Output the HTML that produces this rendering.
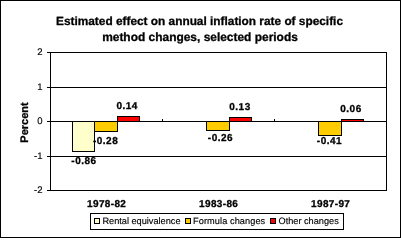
<!DOCTYPE html>
<html><head><meta charset="utf-8">
<style>
html,body{margin:0;padding:0;background:#fff;}
body{width:401px;height:238px;overflow:hidden;position:relative;}
svg{position:absolute;left:0;top:0;display:block;}
.txt{will-change:transform;}
text{font-family:"Liberation Sans",sans-serif;fill:#000;text-rendering:geometricPrecision;}
.t{font-weight:bold;font-size:11.85px;stroke:#000;stroke-width:0.3px;}
.ax{font-size:9.5px;stroke:#000;stroke-width:0.15px;}
.dl{font-weight:bold;font-size:10px;stroke:#000;stroke-width:0.3px;letter-spacing:0.5px;}
.cat{font-weight:bold;font-size:10px;letter-spacing:0.35px;stroke:#000;stroke-width:0.3px;}
.lg{font-size:9.2px;stroke:#000;stroke-width:0.15px;}
.pc{font-weight:bold;font-size:11px;stroke:#000;stroke-width:0.3px;}
</style></head>
<body>
<svg width="401" height="238" viewBox="0 0 401 238">
<g shape-rendering="crispEdges">
<rect x="0" y="0" width="401" height="238" fill="#fff"/>
<!-- outer border -->
<rect x="0" y="0" width="401" height="1" fill="#000"/>
<rect x="0" y="237" width="401" height="1" fill="#000"/>
<rect x="0" y="0" width="1" height="238" fill="#000"/>
<rect x="400" y="0" width="1" height="238" fill="#000"/>
<!-- bars -->
<rect x="72" y="121" width="23" height="31" fill="#FFFFCC"/>
<rect x="94" y="121" width="24" height="11" fill="#FFCC00"/>
<rect x="117" y="116" width="23" height="6" fill="#FF0000"/>
<rect x="206" y="121" width="24" height="10" fill="#FFCC00"/>
<rect x="229" y="117" width="23" height="5" fill="#FF0000"/>
<rect x="318" y="121" width="24" height="15" fill="#FFCC00"/>
<rect x="341" y="119" width="23" height="3" fill="#FF0000"/>
<!-- bar borders -->
<g fill="#000">
<!-- cat1 light yellow -->
<rect x="72" y="121" width="1" height="31"/><rect x="94" y="121" width="1" height="31"/><rect x="72" y="151" width="23" height="1"/>
<!-- cat1 orange -->
<rect x="117" y="116" width="1" height="16"/><rect x="94" y="131" width="24" height="1"/>
<!-- cat1 red -->
<rect x="117" y="116" width="23" height="1"/><rect x="139" y="116" width="1" height="6"/>
<!-- cat2 orange -->
<rect x="206" y="121" width="1" height="10"/><rect x="229" y="117" width="1" height="14"/><rect x="206" y="130" width="24" height="1"/>
<!-- cat2 red -->
<rect x="229" y="117" width="23" height="1"/><rect x="251" y="117" width="1" height="5"/>
<!-- cat3 orange -->
<rect x="318" y="121" width="1" height="15"/><rect x="341" y="119" width="1" height="17"/><rect x="318" y="135" width="24" height="1"/>
<!-- cat3 red -->
<rect x="341" y="119" width="23" height="1"/><rect x="363" y="119" width="1" height="3"/>
</g>
<!-- gridlines -->
<g fill="#000">
<rect x="47" y="52" width="340" height="1"/>
<rect x="47" y="87" width="340" height="1"/>
<rect x="47" y="121" width="340" height="1"/>
<rect x="47" y="156" width="340" height="1"/>
<rect x="47" y="190" width="340" height="1"/>
<rect x="50" y="52" width="1" height="139"/>
<rect x="386" y="52" width="1" height="139"/>
<rect x="162" y="119" width="1" height="2"/>
<rect x="274" y="119" width="1" height="2"/>
</g>
<!-- legend -->
<rect x="90" y="213" width="254" height="17" fill="none"/>
<g fill="#000">
<rect x="90" y="213" width="254" height="1"/>
<rect x="90" y="229" width="254" height="1"/>
<rect x="90" y="213" width="1" height="17"/>
<rect x="343" y="213" width="1" height="17"/>
</g>
<rect x="94" y="218" width="6" height="6" fill="#000"/><rect x="95" y="219" width="4" height="4" fill="#FFFFCC"/>
<rect x="185" y="218" width="6" height="6" fill="#000"/><rect x="186" y="219" width="4" height="4" fill="#FFCC00"/>
<rect x="270" y="218" width="6" height="6" fill="#000"/><rect x="271" y="219" width="4" height="4" fill="#FF0000"/>
</g>
</svg>
<svg class="txt" width="401" height="238" viewBox="0 0 401 238">
<!-- title -->
<text class="t" x="199.5" y="25" text-anchor="middle">Estimated effect on annual inflation rate of specific</text>
<text class="t" x="200" y="41" text-anchor="middle" style="font-size:11.95px">method changes, selected periods</text>
<!-- axis labels -->
<text class="ax" x="42.5" y="55" text-anchor="end">2</text>
<text class="ax" x="42.5" y="90" text-anchor="end">1</text>
<text class="ax" x="42.5" y="124" text-anchor="end">0</text>
<text class="ax" x="42.5" y="159" text-anchor="end">-1</text>
<text class="ax" x="42.5" y="193" text-anchor="end">-2</text>
<!-- y title -->
<text class="pc" transform="translate(28,122.5) rotate(-90)" text-anchor="middle">Percent</text>
<!-- data labels -->
<text class="dl" x="127.2" y="109" text-anchor="middle">0.14</text>
<text class="dl" x="105.6" y="144" text-anchor="middle">-0.28</text>
<text class="dl" x="84" y="164" text-anchor="middle">-0.86</text>
<text class="dl" x="240" y="110" text-anchor="middle">0.13</text>
<text class="dl" x="220.5" y="141" text-anchor="middle">-0.26</text>
<text class="dl" x="351" y="112" text-anchor="middle">0.06</text>
<text class="dl" x="329.5" y="144" text-anchor="middle">-0.41</text>
<!-- categories -->
<text class="cat" x="106.7" y="207" text-anchor="middle">1978-82</text>
<text class="cat" x="218.7" y="207" text-anchor="middle">1983-86</text>
<text class="cat" x="330.7" y="207" text-anchor="middle">1987-97</text>
<!-- legend text -->
<text class="lg" x="102.4" y="224">Rental equivalence</text>
<text class="lg" x="193.1" y="224" style="letter-spacing:0.08px">Formula changes</text>
<text class="lg" x="278.5" y="224">Other changes</text>
</svg>
</body></html>
